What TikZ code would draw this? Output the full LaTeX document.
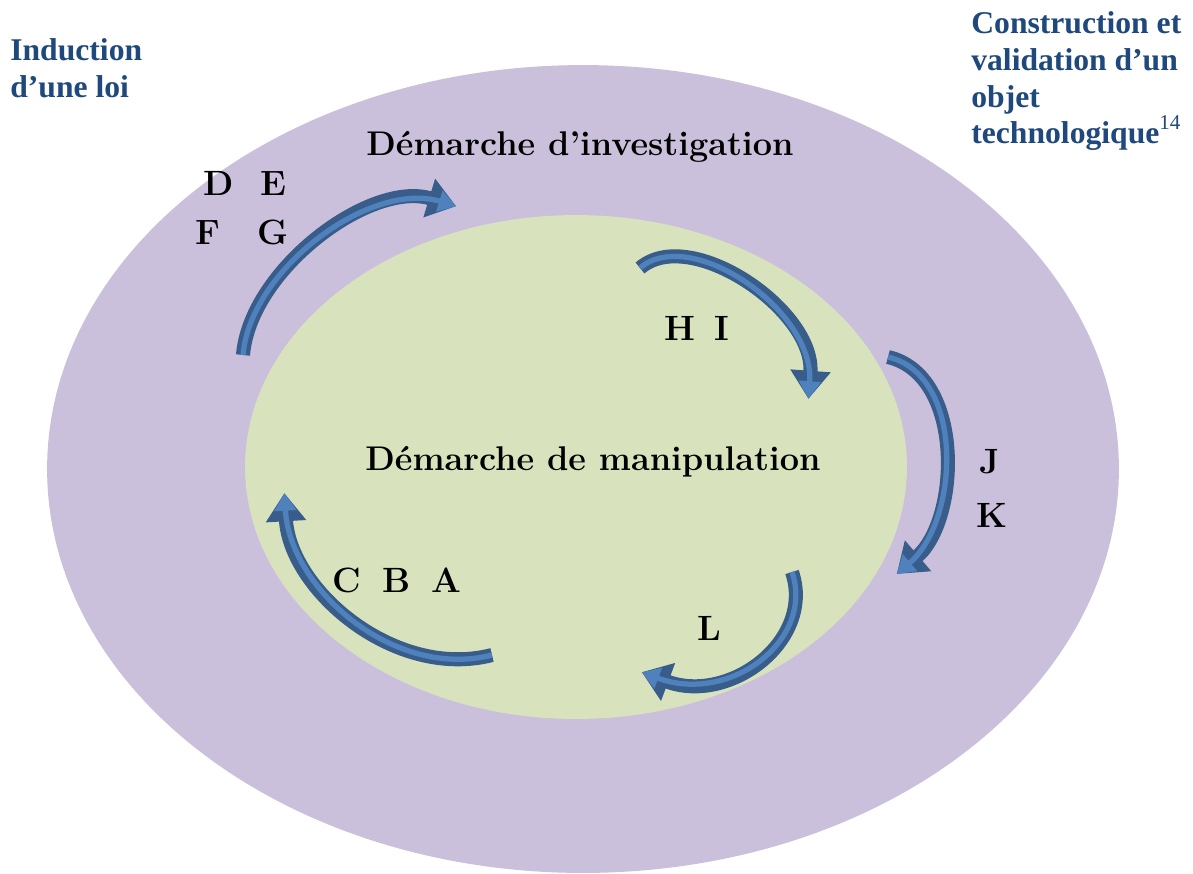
\documentclass[tikz,border=0pt]{standalone}
\usepackage{fontspec}
\newfontfamily\titlefont{Liberation Serif}
\usetikzlibrary{arrows.meta}
\definecolor{outerlilac}{RGB}{203,192,219}
\definecolor{innergreen}{RGB}{216,227,190}
\definecolor{titleblue}{RGB}{31,73,125}
\definecolor{arrowdark}{RGB}{56,93,138}
\definecolor{arrowlight}{RGB}{79,129,189}

\begin{document}
\begin{tikzpicture}[x=0.02cm,y=0.02cm,
    corner/.style={text=titleblue,font=\titlefont\bfseries\fontsize{18}{21}\selectfont,align=left,inner sep=0pt},
    heading/.style={font=\bfseries\fontsize{19.5}{23}\selectfont,inner sep=0pt},
    letters/.style={font=\bfseries\fontsize{20}{23}\selectfont,inner sep=0pt},
    cyclearrow/.style={draw=arrowlight,line width=3pt,shorten >=3.5pt,
        -{Triangle[length=10pt,width=12pt]},
        preaction={draw=arrowdark,line width=8pt,-{Triangle[length=16pt,width=22pt]}}}]
                    \useasboundingbox (0,0) rectangle (1193,-873);
                    \fill[white] (0,0) rectangle (1193,-873);
                    \fill[outerlilac] (583,-469) ellipse (10.72cm and 8.08cm);
                    \fill[innergreen] (576,-467) ellipse (6.62cm and 5.04cm);
                    \node[corner,anchor=north west] (induction) at (10,-38) {Induction\\d’une loi};
                    \node[corner,anchor=north west] (construction) at (971,-11) {Construction et\\validation d’un\\objet\\technologique\raisebox{1ex}{\mdseries\fontsize{12}{12}\selectfont 14}};
                    \node[heading] (investigation) at (580,-147) {Démarche d’investigation};
                    \node[heading] (manipulation) at (593,-462) {Démarche de manipulation};
                    \node[letters] (de) at (245,-183) {D\hspace{0.75em}E};
                    \node[letters] (fg) at (242,-232) {F\hspace{1.05em}G};
                    \node[letters] (hi) at (697,-328) {H\hspace{0.55em}I};
                    \node[letters] (j) at (990,-462) {J};
                    \node[letters] (k) at (992,-515) {K};
                    \node[letters] (cba) at (397,-580) {C\hspace{0.6em}B\hspace{0.6em}A};
                    \node[letters] (l) at (709,-628) {L};
                    \coordinate (taildefg) at (243,-355);
                    \coordinate (headdefg) at (462,-208);
                    \coordinate (tailhi) at (640,-268);
                    \coordinate (headhi) at (808,-405);
                    \coordinate (tailjk) at (888,-357);
                    \coordinate (headjk) at (892,-578);
                    \coordinate (taill) at (792,-572);
                    \coordinate (headl) at (636,-670);
                    \coordinate (tailcba) at (492,-655);
                    \coordinate (headcba) at (284,-487);
                    \draw[cyclearrow] (taildefg) .. controls (250,-270) and (370,-180) .. (headdefg);
                    \draw[cyclearrow] (tailhi) .. controls (690,-225) and (815,-310) .. (headhi);
                    \draw[cyclearrow] (tailjk) .. controls (965,-375) and (960,-520) .. (headjk);
                    \draw[cyclearrow] (taill) .. controls (815,-640) and (730,-705) .. (headl);
                    \draw[cyclearrow] (tailcba) .. controls (395,-680) and (290,-590) .. (headcba);
\end{tikzpicture}
\end{document}
